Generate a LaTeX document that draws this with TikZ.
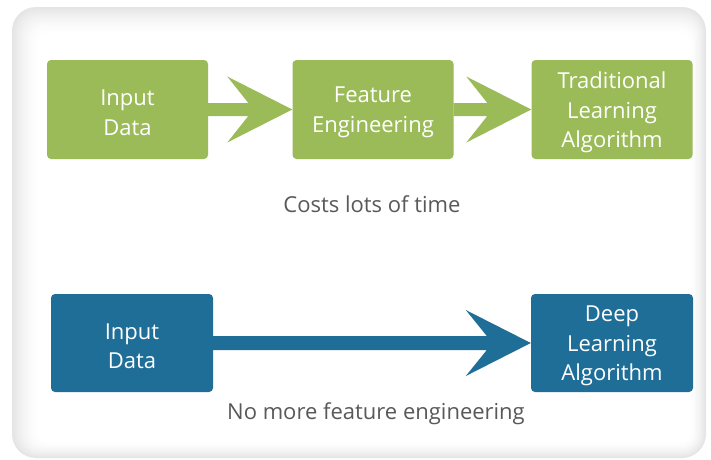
\documentclass[tikz,border=0pt]{standalone}
\usepackage{fontspec}
\setmainfont{Open Sans}
\usetikzlibrary{calc}
\definecolor{leafgreen}{HTML}{9BBB59}
\definecolor{deepblue}{HTML}{1F6E98}
\definecolor{captiongray}{HTML}{595959}
\tikzset{
  box/.style={rounded corners=4pt, inner sep=0pt},
  boxtext/.style={inner sep=0pt, text=white, align=center, yshift=-3pt,
    font=\fontsize{22}{29.5}\selectfont},
  greenbox/.style={box, fill=leafgreen, minimum width=161pt, minimum height=99pt},
  bluebox/.style={box, fill=deepblue, minimum width=162pt, minimum height=98pt},
  caption/.style={text=captiongray, font=\fontsize{22}{29}\selectfont, inner sep=0pt}
}
% chevron-headed arrow from the east side of #1 to the west side of #2
\newcommand\flowarrow[4]{%
  \fill[#3] ($(#1.east)+(0,#4)$) -- ($(#2.west)+(-44,#4)$) -- ($(#2.west)+(-65,33)$)
    -- (#2.west) -- ($(#2.west)+(-65,-33)$) -- ($(#2.west)+(-44,-#4)$)
    -- ($(#1.east)+(0,-#4)$) -- cycle;}
\begin{document}
\begin{tikzpicture}[x=1pt, y=-1pt]
\useasboundingbox (0,0) rectangle (711,459);
\fill[white] (0,0) rectangle (711,459);
% soft-edged panel behind the diagram
\foreach \i in {0,...,13}{
  \pgfmathsetmacro\shade{10*(1-\i/13)^1.5}
  \fill[black!\shade!white, rounded corners={24-1.2*\i}]
    (12+2*\i,7+2*\i) rectangle (706-1.2*\i,458-1.2*\i);
}
% traditional pipeline
\node[greenbox] (inA) at (127.5,109.5) {};
\node[greenbox] (feat) at (373,109.5) {};
\node[greenbox] (trad) at (612,109.5) {};
\node[boxtext] (inAtext) at (inA.center) {Input\\Data};
\node[boxtext] (feattext) at (feat.center) {Feature\\Engineering};
\node[boxtext] (tradtext) at (trad.center) {Traditional\\Learning\\Algorithm};
\flowarrow{inA}{feat}{leafgreen}{6.5}
\flowarrow{feat}{trad}{leafgreen}{6.5}
\node[caption] (cost) at (372,204) {Costs lots of time};
% deep learning pipeline
\node[bluebox] (inB) at (132,343) {};
\node[bluebox] (deep) at (612,343) {};
\node[boxtext] (inBtext) at (inB.center) {Input\\Data};
\node[boxtext] (deeptext) at (deep.center) {Deep\\Learning\\Algorithm};
\flowarrow{inB}{deep}{deepblue}{7}
\node[caption] (nofe) at (376,414) {No more feature engineering};
\end{tikzpicture}
\end{document}
